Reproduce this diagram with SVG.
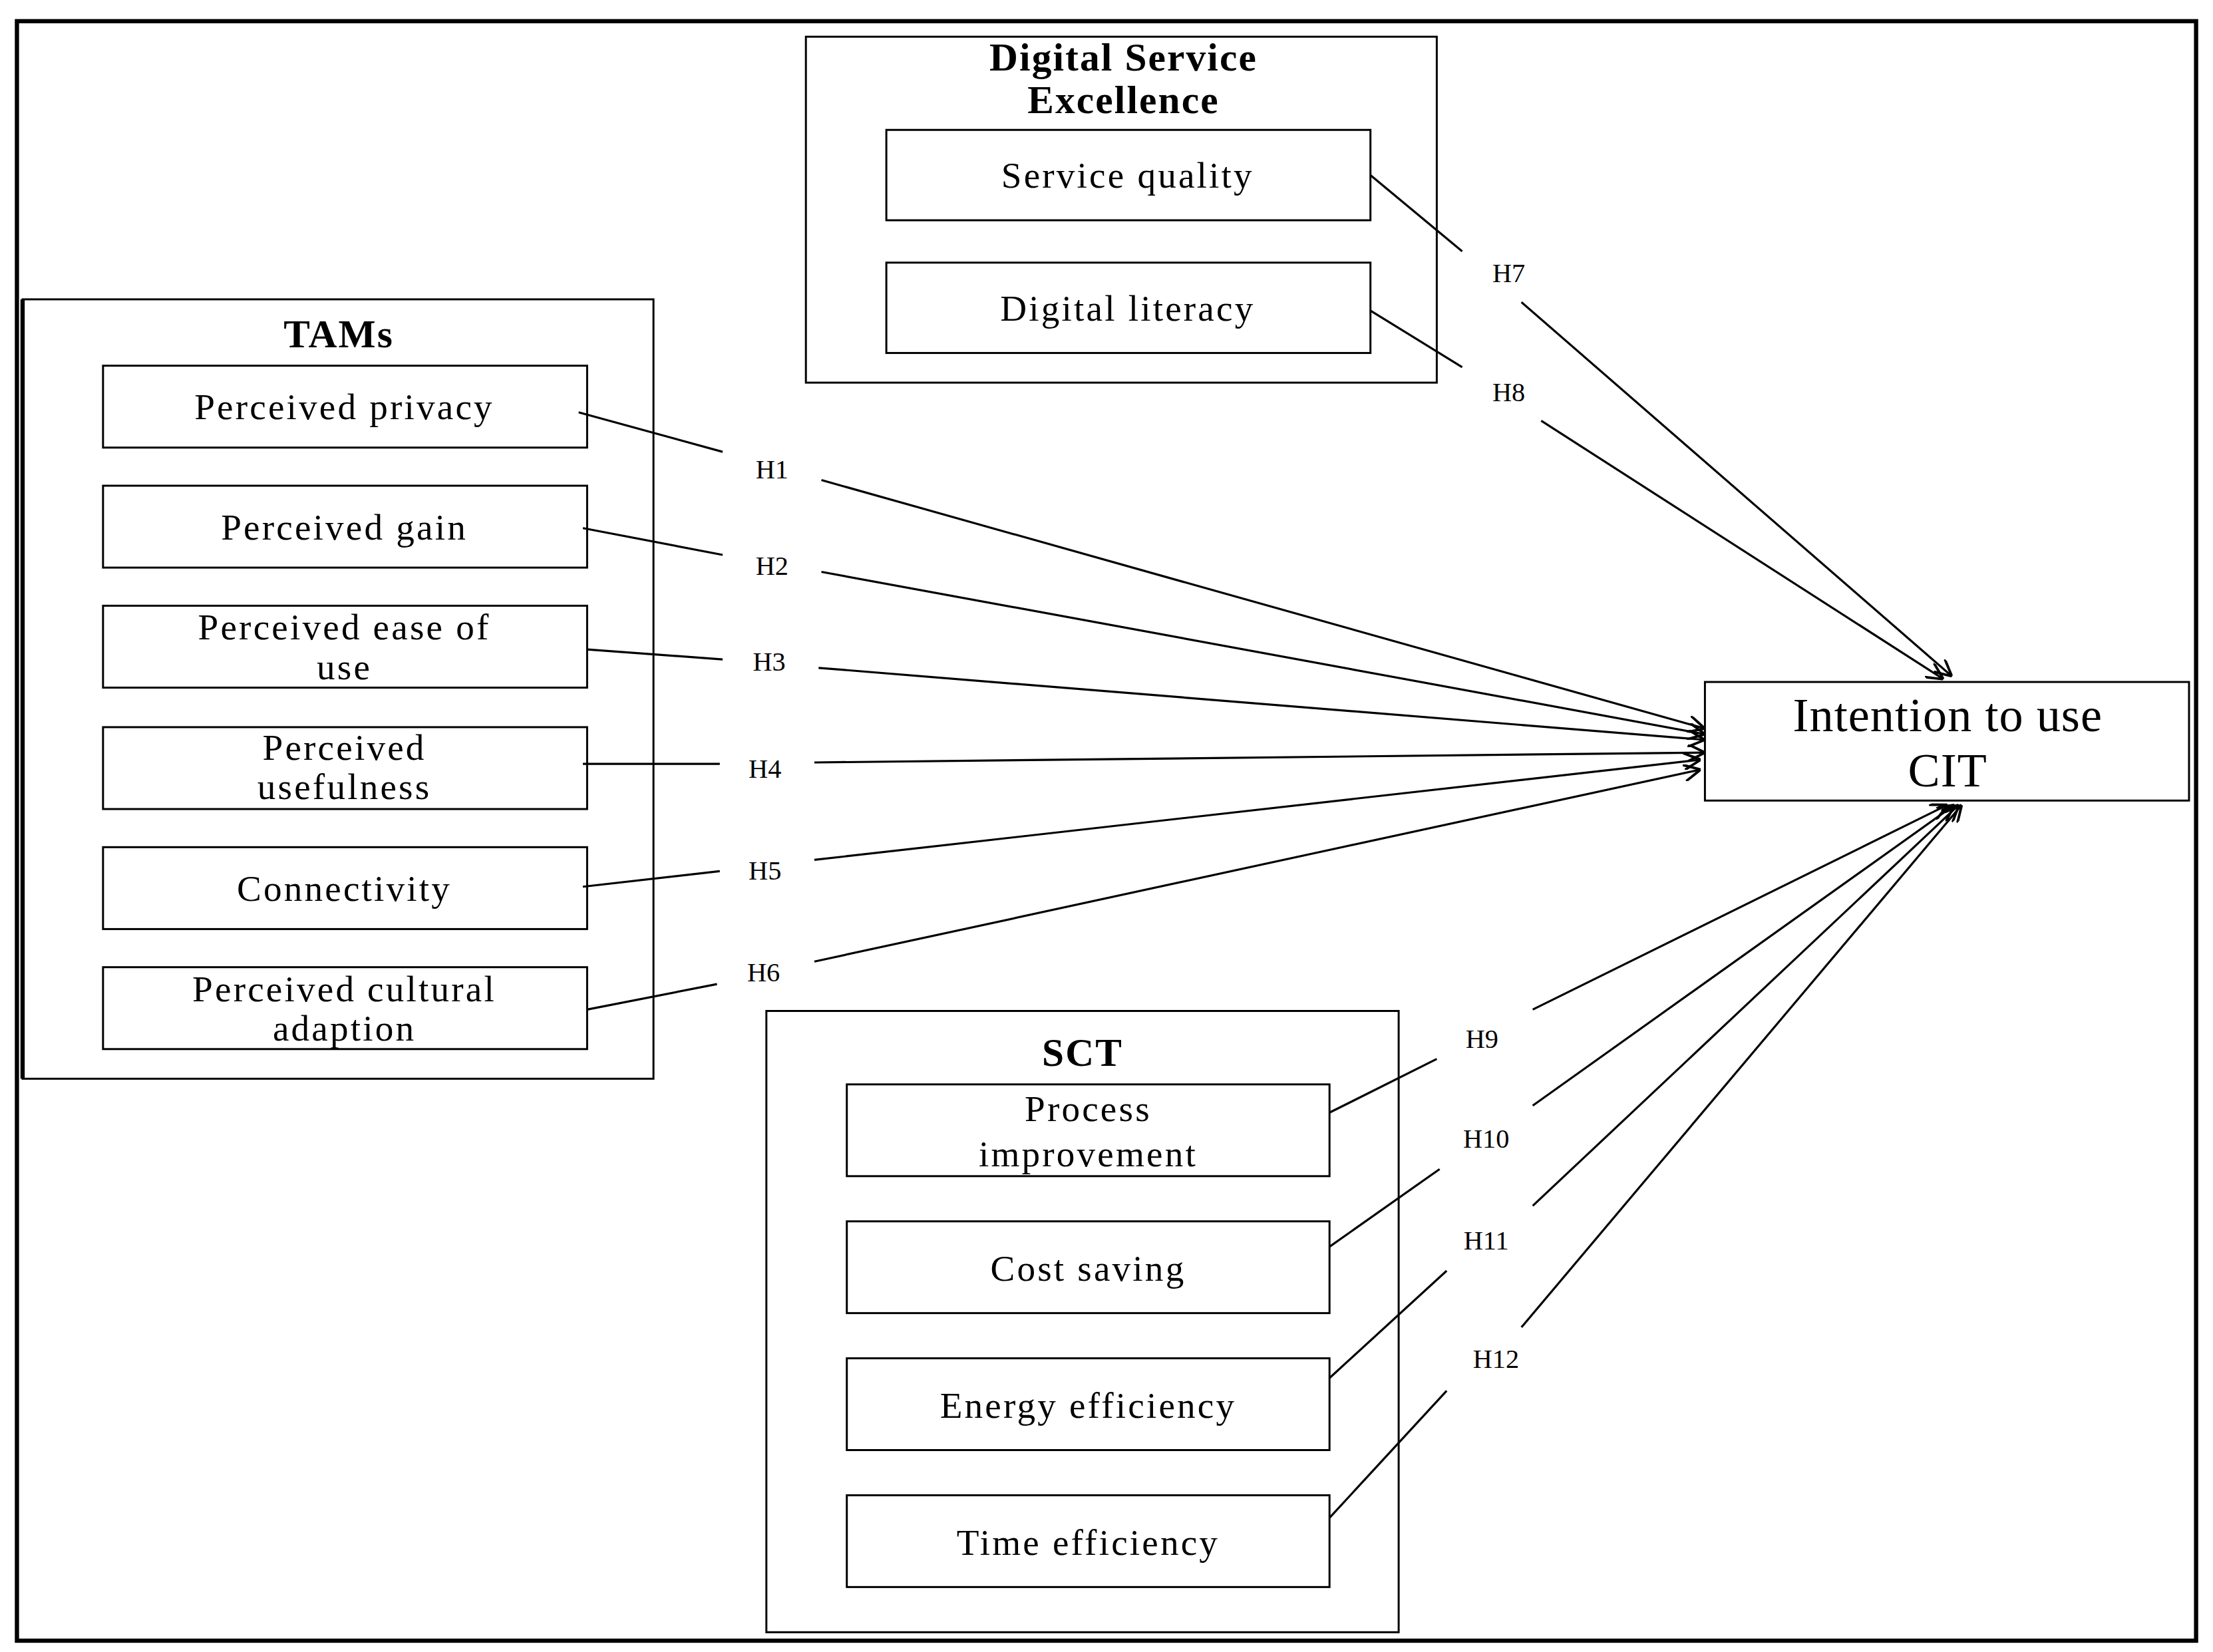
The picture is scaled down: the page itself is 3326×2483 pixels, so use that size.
<svg xmlns="http://www.w3.org/2000/svg" width="3326" height="2483" viewBox="0 0 3326 2483">
<style>
.b{fill:#fff;stroke:#000;stroke-width:1.4}
.t{font-family:"Liberation Serif",serif;font-size:26px;letter-spacing:1.5px;text-anchor:middle;fill:#000}
.h{font-family:"Liberation Serif",serif;font-size:19px;text-anchor:middle;fill:#000}
.bt{font-family:"Liberation Serif",serif;font-size:28px;font-weight:bold;letter-spacing:1px;text-anchor:middle}
.c{stroke:#000;stroke-width:1.5;fill:none}
.a{marker-end:url(#ar)}
</style>
<defs><marker id="ar" viewBox="0 0 10 10" refX="10" refY="5" markerWidth="12" markerHeight="12" markerUnits="userSpaceOnUse" orient="auto"><path d="M0,0L10,5L0,10" fill="none" stroke="#000" stroke-width="1.5"/></marker></defs>
<rect width="3326" height="2483" fill="#fff"/>
<g transform="scale(2.1212,2.1222)">
<rect x="12" y="15" width="1544" height="1147" fill="none" stroke="#000" stroke-width="3"/>
<g id="dse"><rect x="571" y="26" width="447" height="245" class="b"/><text class="bt" x="796" y="50">Digital Service</text><text class="bt" x="796" y="80">Excellence</text></g>
<g id="sq"><rect x="628" y="92" width="343" height="64" class="b"/><text class="t" x="799" y="133">Service quality</text></g>
<g id="dl"><rect x="628" y="186" width="343" height="64" class="b"/><text class="t" x="799" y="227">Digital literacy</text></g>
<g id="tams"><rect x="16" y="212" width="447" height="552" class="b"/><line x1="16" y1="212" x2="16" y2="764" stroke="#000" stroke-width="3"/><text class="bt" x="240" y="246">TAMs</text></g>
<g id="pp"><rect x="73" y="259" width="343" height="58" class="b"/><text class="t" x="244" y="297">Perceived privacy</text></g>
<g id="pg"><rect x="73" y="344" width="343" height="58" class="b"/><text class="t" x="244" y="382">Perceived gain</text></g>
<g id="pe"><rect x="73" y="429" width="343" height="58" class="b"/><text class="t" x="244" y="453">Perceived ease of</text><text class="t" x="244" y="481">use</text></g>
<g id="pu"><rect x="73" y="515" width="343" height="58" class="b"/><text class="t" x="244" y="538">Perceived</text><text class="t" x="244" y="566">usefulness</text></g>
<g id="cn"><rect x="73" y="600" width="343" height="58" class="b"/><text class="t" x="244" y="638">Connectivity</text></g>
<g id="pc"><rect x="73" y="685" width="343" height="58" class="b"/><text class="t" x="244" y="709">Perceived cultural</text><text class="t" x="244" y="737">adaption</text></g>
<g id="it"><rect x="1208" y="483" width="343" height="84" class="b"/><text class="t" x="1380" y="518" style="font-size:34px;letter-spacing:0.5px">Intention to use</text><text class="t" x="1380" y="557" style="font-size:34px;letter-spacing:0.5px">CIT</text></g>
<g id="sct"><rect x="543" y="716" width="448" height="440" class="b"/><text class="bt" x="767" y="755">SCT</text></g>
<g id="pi"><rect x="600" y="768" width="342" height="65" class="b"/><text class="t" x="771" y="794">Process</text><text class="t" x="771" y="826">improvement</text></g>
<g id="cs"><rect x="600" y="865" width="342" height="65" class="b"/><text class="t" x="771" y="907">Cost saving</text></g>
<g id="ee"><rect x="600" y="962" width="342" height="65" class="b"/><text class="t" x="771" y="1004">Energy efficiency</text></g>
<g id="te"><rect x="600" y="1059" width="342" height="65" class="b"/><text class="t" x="771" y="1101">Time efficiency</text></g>
<g id="connectors">
<path class="c" d="M410,292L512,320"/><path class="c a" d="M582,340L1208,516"/>
<path class="c" d="M413,374L512,393"/><path class="c a" d="M582,405L1208,520"/>
<path class="c" d="M416,460L512,467"/><path class="c a" d="M580,473L1208,524"/>
<path class="c" d="M413,541L510,541"/><path class="c a" d="M577,540L1208,533"/>
<path class="c" d="M413,628L510,617"/><path class="c a" d="M577,609L1205,538"/>
<path class="c" d="M416,715L508,697"/><path class="c a" d="M577,681L1205,545"/>
<path class="c" d="M971,124L1036,178"/><path class="c a" d="M1078,214L1383,479"/>
<path class="c" d="M971,220L1036,260"/><path class="c a" d="M1092,298L1377,481"/>
<path class="c" d="M942,788L1018,750"/><path class="c a" d="M1086,715L1380,570"/>
<path class="c" d="M942,883L1020,828"/><path class="c a" d="M1086,783L1385,570"/>
<path class="c" d="M942,976L1025,900"/><path class="c a" d="M1086,854L1388,570"/>
<path class="c" d="M942,1075L1025,985"/><path class="c a" d="M1078,940L1390,570"/>
<text class="h" x="547" y="339">H1</text><text class="h" x="547" y="407">H2</text><text class="h" x="545" y="475">H3</text>
<text class="h" x="542" y="551">H4</text><text class="h" x="542" y="623">H5</text><text class="h" x="541" y="695">H6</text>
<text class="h" x="1069" y="200">H7</text><text class="h" x="1069" y="284">H8</text><text class="h" x="1050" y="742">H9</text>
<text class="h" x="1053" y="813">H10</text><text class="h" x="1053" y="885">H11</text><text class="h" x="1060" y="969">H12</text>
</g>
</g>
</svg>
